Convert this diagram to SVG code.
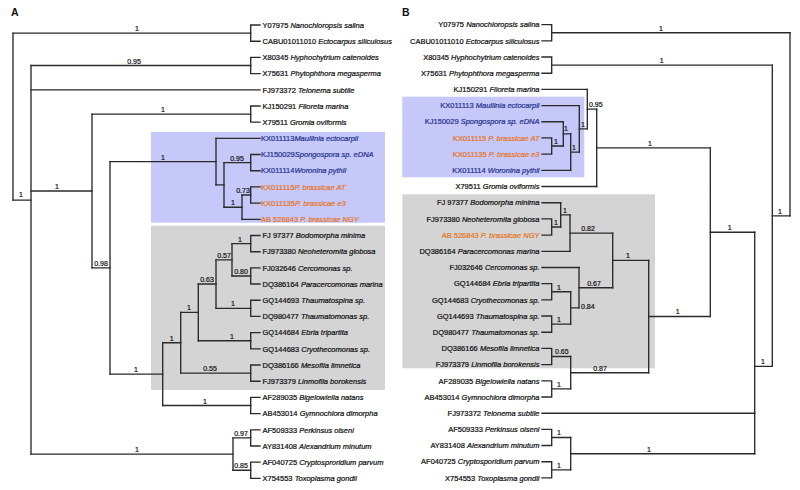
<svg xmlns="http://www.w3.org/2000/svg" width="800" height="490" viewBox="0 0 800 490">
<style>
.bg{fill:#fff}
.bl{fill:#c5c8f9}
.gr{fill:#d4d4d4}
.e{fill:none;stroke:#2a2a2a;stroke-width:1.35;stroke-linecap:square}
.t{font-family:"Liberation Sans",Arial,sans-serif;font-size:7.5px;fill:#111;stroke:#111;stroke-width:0.22}
.i{font-style:italic}
.b{fill:#26348e;stroke:#26348e}
.o{fill:#e5761f;stroke:#e5761f}
.s{font-family:"Liberation Sans",Arial,sans-serif;font-size:7px;fill:#111;stroke:#111;stroke-width:0.2;text-anchor:middle}
.sl{font-family:"Liberation Sans",Arial,sans-serif;font-size:7px;fill:#111;stroke:#111;stroke-width:0.2}
.p{font-family:"Liberation Sans",Arial,sans-serif;font-size:10.5px;font-weight:bold;fill:#111}
.r{text-anchor:end}
</style>
<rect class="bg" width="800" height="490"/>
<g id="boxes">
<rect class="bl" x="151" y="132" width="234" height="90.7"/>
<rect class="gr" x="151" y="225.7" width="234" height="164.3"/>
<rect class="bl" x="402.3" y="96.7" width="182" height="80.6"/>
<rect class="gr" x="402.3" y="194.3" width="252.7" height="174"/>
</g>
<text class="p" x="11" y="16">A</text>
<text class="p" x="402" y="16">B</text>
<g id="connectors">
<path class="e" d="M13 33.1V200.1M31 65.5V454.1M92 114.1V267.9M110 161.6V374.1M216 138.3V184.9M224 162.6V207.2M242 195V219.3M162.7 342.7V405.5M180.7 312.4V373.1M198.3 284V340.7M216 259.8V308.3M232 243.6V276M233 437.9V470.2"/>
<path class="e" d="M13 33.1H250.7M13 200.1H31M31 65.5H250.7M31 89.8H260M31 191H92M31 454.1H233M92 114.1H250.7M92 267.9H110M110 161.6H216M110 374.1H162.7M216 138.3H260M216 184.9H224M224 162.6H250.7M224 207.2H242M242 195H250.7M242 219.3H260M162.7 342.7H180.7M162.7 405.5H250.7M180.7 312.4H198.3M180.7 373.1H250.7M198.3 284H216M198.3 340.7H250.7M216 259.8H232M216 308.3H250.7M232 243.6H250.7M232 276H250.7M233 437.9H250.7M233 470.2H250.7"/>
<path class="e" d="M260 25H250.7V41.2H260M260 57.4H250.7V73.6H260M260 106H250.7V122.1H260M260 154.5H250.7V170.7H260M260 186.9H250.7V203.1H260M260 235.5H250.7V251.7H260M260 267.9H250.7V284H260M260 300.2H250.7V316.4H260M260 332.6H250.7V348.8H260M260 365H250.7V381.2H260M260 397.4H250.7V413.6H260M260 429.8H250.7V446H260M260 462.1H250.7V478.3H260"/>
<path class="e" d="M790 32.7V215.8M772.3 65.1V366.4M754.7 232.2V453.7M710.3 147.8V316.5M596.7 109.1V186.5M587.3 89.4V128.9M579.3 105.6V152.1M570.7 133.9V170.3M563.3 121.7V146M648.7 260.4V372.7M612.7 233.1V287.7M570 214.9V251.3M560.7 202.7V227M579 267.5V307.9M570.7 291.7V324.1M570.7 356.5V388.9M570.7 437.5V469.8"/>
<path class="e" d="M551.7 32.7H790M772.3 215.8H790M551.7 65.1H772.3M754.7 366.4H772.3M710.3 232.2H754.7M542 413.2H754.7M570.7 453.7H754.7M596.7 147.8H710.3M648.7 316.5H710.3M587.3 109.1H596.7M542 186.5H596.7M542 89.4H587.3M579.3 128.9H587.3M542 105.6H579.3M570.7 152.1H579.3M563.3 133.9H570.7M542 170.3H570.7M542 121.7H563.3M551.7 146H563.3M612.7 260.4H648.7M570.7 372.7H648.7M570 233.1H612.7M579 287.7H612.7M560.7 214.9H570M542 251.3H570M542 202.7H560.7M551.7 227H560.7M542 267.5H579M570.7 307.9H579M551.7 291.7H570.7M551.7 324.1H570.7M551.7 356.5H570.7M551.7 388.9H570.7M551.7 437.5H570.7M551.7 469.8H570.7"/>
<path class="e" d="M542 24.6H551.7V40.8H542M542 57H551.7V73.2H542M542 137.9H551.7V154.1H542M542 218.9H551.7V235.1H542M542 283.6H551.7V299.8H542M542 316H551.7V332.2H542M542 348.4H551.7V364.6H542M542 380.8H551.7V397H542M542 429.4H551.7V445.5H542M542 461.7H551.7V477.9H542"/>
</g>
<g id="support-A">
<text class="s" x="137" y="31">1</text>
<text class="s" x="134" y="63.5">0.95</text>
<text class="s" x="163" y="112">1</text>
<text class="s" x="163" y="159.5">1</text>
<text class="s" x="57" y="189">1</text>
<text class="s" x="21" y="197">1</text>
<text class="s" x="101" y="266">0.98</text>
<text class="s" x="237" y="160.5">0.95</text>
<text class="s" x="243" y="193">0.73</text>
<text class="s" x="233" y="205">1</text>
<text class="s" x="240" y="241.5">1</text>
<text class="s" x="224" y="257.8">0.57</text>
<text class="s" x="241" y="274">0.80</text>
<text class="s" x="207" y="282">0.63</text>
<text class="s" x="233" y="306.3">1</text>
<text class="s" x="189" y="310.4">1</text>
<text class="s" x="232" y="338.7">1</text>
<text class="s" x="210" y="371">0.55</text>
<text class="s" x="171.7" y="340.7">1</text>
<text class="s" x="136" y="372">1</text>
<text class="s" x="205" y="403.5">1</text>
<text class="s" x="241" y="436">0.97</text>
<text class="s" x="241" y="468">0.85</text>
<text class="s" x="137" y="452">1</text>
</g>
<g id="support-B">
<text class="s" x="661" y="30.5">1</text>
<text class="s" x="661.7" y="63">1</text>
<text class="s" x="780" y="213.5">1</text>
<text class="s" x="763" y="364.2">1</text>
<text class="s" x="729.7" y="230">1</text>
<text class="s" x="650" y="145.6">1</text>
<text class="s" x="677.7" y="314.3">1</text>
<text class="sl" x="589" y="107">0.95</text>
<text class="s" x="583" y="127">1</text>
<text class="s" x="574" y="150">1</text>
<text class="s" x="566" y="131">1</text>
<text class="s" x="556" y="144">1</text>
<text class="s" x="556" y="225">1</text>
<text class="s" x="565" y="213">1</text>
<text class="s" x="588" y="231">0.82</text>
<text class="s" x="559" y="289.5">1</text>
<text class="s" x="559" y="322">1</text>
<text class="sl" x="581" y="309">0.84</text>
<text class="s" x="594" y="285.5">0.67</text>
<text class="s" x="628" y="258.2">1</text>
<text class="sl" x="555" y="354.3">0.65</text>
<text class="s" x="559" y="386.7">1</text>
<text class="s" x="600" y="370.5">0.87</text>
<text class="s" x="559" y="435.3">1</text>
<text class="s" x="559" y="467.6">1</text>
<text class="s" x="649" y="451.5">1</text>
</g>
<g id="leaves-A">
<text id="a0" class="t" x="262.5" y="27.7">Y07975 <tspan class="i">Nanochloropsis salina</tspan></text>
<text id="a1" class="t" x="262.5" y="43.9">CABU01011010 <tspan class="i">Ectocarpus siliculosus</tspan></text>
<text id="a2" class="t" x="262.5" y="60.1">X80345 <tspan class="i">Hyphochytrium catenoides</tspan></text>
<text id="a3" class="t" x="262.5" y="76.3">X75631 <tspan class="i">Phytophthora megasperma</tspan></text>
<text id="a4" class="t" x="262.5" y="92.5">FJ973372 <tspan class="i">Telonema subtile</tspan></text>
<text id="a5" class="t" x="262.5" y="108.7">KJ150291 <tspan class="i">Filoreta marina</tspan></text>
<text id="a6" class="t" x="262.5" y="124.8">X79511 <tspan class="i">Gromia oviformis</tspan></text>
<text id="a7" class="t b" x="261" y="141">KX011113<tspan class="i">Maullinia ectocarpii</tspan></text>
<text id="a8" class="t b" x="261" y="157.2">KJ150029<tspan class="i">Spongospora sp. eDNA</tspan></text>
<text id="a9" class="t b" x="261" y="173.4">KX011114<tspan class="i">Woronina pythii</tspan></text>
<text id="a10" class="t o" x="261" y="189.6">KX011115<tspan class="i">P. brassicae AT</tspan></text>
<text id="a11" class="t o" x="261" y="205.8">KX011135<tspan class="i">P. brassicae e3</tspan></text>
<text id="a12" class="t o" x="261" y="222">AB 526843 <tspan class="i">P. brassicae NGY</tspan></text>
<text id="a13" class="t" x="262.5" y="238.2">FJ 97377 <tspan class="i">Bodomorpha minima</tspan></text>
<text id="a14" class="t" x="262.5" y="254.4">FJ973380 <tspan class="i">Neoheteromita globosa</tspan></text>
<text id="a15" class="t" x="262.5" y="270.6">FJ032646 <tspan class="i">Cercomonas sp.</tspan></text>
<text id="a16" class="t" x="262.5" y="286.7">DQ386164 <tspan class="i">Paracercomonas marina</tspan></text>
<text id="a17" class="t" x="262.5" y="302.9">GQ144693 <tspan class="i">Thaumatospina sp.</tspan></text>
<text id="a18" class="t" x="262.5" y="319.1">DQ980477 <tspan class="i">Thaumatomonas sp.</tspan></text>
<text id="a19" class="t" x="262.5" y="335.3">GQ144684 <tspan class="i">Ebria tripartita</tspan></text>
<text id="a20" class="t" x="262.5" y="351.5">GQ144683 <tspan class="i">Cryothecomonas sp.</tspan></text>
<text id="a21" class="t" x="262.5" y="367.7">DQ386166 <tspan class="i">Mesofila limnetica</tspan></text>
<text id="a22" class="t" x="262.5" y="383.9">FJ973379 <tspan class="i">Linmofila borokensis</tspan></text>
<text id="a23" class="t" x="262.5" y="400.1">AF289035 <tspan class="i">Bigelowiella natans</tspan></text>
<text id="a24" class="t" x="262.5" y="416.3">AB453014 <tspan class="i">Gymnochlora dimorpha</tspan></text>
<text id="a25" class="t" x="262.5" y="432.5">AF509333 <tspan class="i">Perkinsus olseni</tspan></text>
<text id="a26" class="t" x="262.5" y="448.7">AY831408 <tspan class="i">Alexandrium minutum</tspan></text>
<text id="a27" class="t" x="262.5" y="464.8">AF040725 <tspan class="i">Cryptosproridium parvum</tspan></text>
<text id="a28" class="t" x="262.5" y="481">X754553 <tspan class="i">Toxoplasma gondii</tspan></text>
</g>
<g id="leaves-B">
<text id="b0" class="t r" x="539.5" y="27.3">Y07975 <tspan class="i">Nanochloropsis salina</tspan></text>
<text id="b1" class="t r" x="539.5" y="43.5">CABU01011010 <tspan class="i">Ectocarpus siliculosus</tspan></text>
<text id="b2" class="t r" x="539.5" y="59.7">X80345 <tspan class="i">Hyphochytrium catenoides</tspan></text>
<text id="b3" class="t r" x="539.5" y="75.9">X75631 <tspan class="i">Phytophthora megasperma</tspan></text>
<text id="b4" class="t r" x="539.5" y="92.1">KJ150291 <tspan class="i">Filoreta marina</tspan></text>
<text id="b5" class="t b r" x="539.5" y="108.3">KX011113 <tspan class="i">Maullinia ectocarpii</tspan></text>
<text id="b6" class="t b r" x="539.5" y="124.4">KJ150029 <tspan class="i">Spongospora sp. eDNA</tspan></text>
<text id="b7" class="t o r" x="539.5" y="140.6">KX011115 <tspan class="i">P. brassicae AT</tspan></text>
<text id="b8" class="t o r" x="539.5" y="156.8">KX011135 <tspan class="i">P. brassicae e3</tspan></text>
<text id="b9" class="t b r" x="539.5" y="173">KX011114 <tspan class="i">Woronina pythii</tspan></text>
<text id="b10" class="t r" x="539.5" y="189.2">X79511 <tspan class="i">Gromia oviformis</tspan></text>
<text id="b11" class="t r" x="539.5" y="205.4">FJ 97377 <tspan class="i">Bodomorpha minima</tspan></text>
<text id="b12" class="t r" x="539.5" y="221.6">FJ973380 <tspan class="i">Neoheteromita globosa</tspan></text>
<text id="b13" class="t o r" x="539.5" y="237.8">AB 526843 <tspan class="i">P. brassicae NGY</tspan></text>
<text id="b14" class="t r" x="539.5" y="254">DQ386164 <tspan class="i">Paracercomonas marina</tspan></text>
<text id="b15" class="t r" x="539.5" y="270.2">FJ032646 <tspan class="i">Cercomonas sp.</tspan></text>
<text id="b16" class="t r" x="539.5" y="286.3">GQ144684 <tspan class="i">Ebria tripartita</tspan></text>
<text id="b17" class="t r" x="539.5" y="302.5">GQ144683 <tspan class="i">Cryothecomonas sp.</tspan></text>
<text id="b18" class="t r" x="539.5" y="318.7">GQ144693 <tspan class="i">Thaumatospina sp.</tspan></text>
<text id="b19" class="t r" x="539.5" y="334.9">DQ980477 <tspan class="i">Thaumatomonas sp.</tspan></text>
<text id="b20" class="t r" x="539.5" y="351.1">DQ386166 <tspan class="i">Mesofila limnetica</tspan></text>
<text id="b21" class="t r" x="539.5" y="367.3">FJ973379 <tspan class="i">Linmofila borokensis</tspan></text>
<text id="b22" class="t r" x="539.5" y="383.5">AF289035 <tspan class="i">Bigelowiella natans</tspan></text>
<text id="b23" class="t r" x="539.5" y="399.7">AB453014 <tspan class="i">Gymnochlora dimorpha</tspan></text>
<text id="b24" class="t r" x="539.5" y="415.9">FJ973372 <tspan class="i">Telonema subtile</tspan></text>
<text id="b25" class="t r" x="539.5" y="432.1">AF509333 <tspan class="i">Perkinsus olseni</tspan></text>
<text id="b26" class="t r" x="539.5" y="448.2">AY831408 <tspan class="i">Alexandrium minutum</tspan></text>
<text id="b27" class="t r" x="539.5" y="464.4">AF040725 <tspan class="i">Cryptosporidium parvum</tspan></text>
<text id="b28" class="t r" x="539.5" y="480.6">X754553 <tspan class="i">Toxoplasma gondii</tspan></text>
</g>
</svg>
